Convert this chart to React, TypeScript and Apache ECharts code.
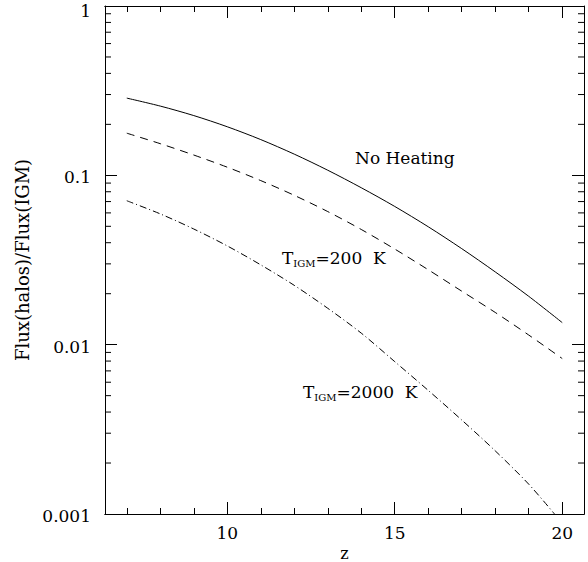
import React, { useEffect, useRef } from "react";
import * as echarts from "echarts";

// ---- data ----
const zValues = [7, 8, 9, 10, 11, 12, 13, 14, 15, 16, 17, 18, 19, 20];
const noHeating = [0.2858, 0.2564, 0.2254, 0.1936, 0.1626, 0.1334, 0.1072, 0.0845, 0.0655, 0.0497, 0.0369, 0.0269, 0.0193, 0.0135];
const t200 = [0.1774, 0.1538, 0.1318, 0.1117, 0.0931, 0.0762, 0.0611, 0.0479, 0.0367, 0.0277, 0.0207, 0.0155, 0.0114, 0.00828];
const zDashDot = [7, 8, 9, 10, 11, 12, 13, 14, 15, 16, 17, 18, 19, 19.77];
const t2000 = [0.0708, 0.0592, 0.0482, 0.0383, 0.0296, 0.0224, 0.0164, 0.0117, 0.00794, 0.00537, 0.00359, 0.00236, 0.0015, 0.001];

const xMajorTicks = [10, 15, 20];
const xMinorTicks = [7, 8, 9, 10, 11, 12, 13, 14, 15, 16, 17, 18, 19, 20];
const yMinorTicks = [
  0.002, 0.003, 0.004, 0.005, 0.006, 0.007, 0.008, 0.009,
  0.02, 0.03, 0.04, 0.05, 0.06, 0.07, 0.08, 0.09,
  0.2, 0.3, 0.4, 0.5, 0.6, 0.7, 0.8, 0.9,
];

const X_MIN = 6.35;
const X_MAX = 20.65;
const Y_MIN = 0.001;
const Y_MAX = 1;

const FONT = '"DejaVu Serif", serif';
const BLACK = "#000";

function pairs(xs: number[], ys: number[]) {
  return xs.map((x, i) => [x, ys[i]]);
}

export default function App() {
  const ref = useRef<HTMLDivElement>(null);

  useEffect(() => {
    document.body.style.margin = "0";
    if (!ref.current) return;
    const chart = echarts.init(ref.current, null, { renderer: "svg" });

    const axisLine = { show: true, onZero: false, lineStyle: { color: BLACK, width: 1 } };
    const baseX: any = {
      type: "value",
      min: X_MIN,
      max: X_MAX,
      splitLine: { show: false },
      axisLine,
    };
    const majorTickX = { show: true, inside: true, length: 12, customValues: xMajorTicks, lineStyle: { color: BLACK, width: 1 } };
    const minorTickX = { show: true, inside: true, length: 6, customValues: xMinorTicks, lineStyle: { color: BLACK, width: 1 } };

    const baseY: any = {
      type: "log",
      logBase: 10,
      min: Y_MIN,
      max: Y_MAX,
      splitLine: { show: false },
      minorTick: { show: false },
      axisLine,
      axisTick: { show: true, inside: true, length: 12, lineStyle: { color: BLACK, width: 1 } },
    };

    const option: any = {
      animation: false,
      backgroundColor: "#fff",
      grid: { left: 105, right: 4, top: 6, bottom: 48, containLabel: false, outerBoundsMode: "none" },
      xAxis: [
        {
          ...baseX,
          position: "bottom",
          name: "z",
          nameLocation: "middle",
          nameGap: 26,
          nameTextStyle: { fontFamily: FONT, fontSize: 16, color: BLACK },
          axisTick: majorTickX,
          axisLabel: { show: true, customValues: xMajorTicks, margin: 10, fontFamily: FONT, fontSize: 17, color: BLACK },
        },
        { ...baseX, position: "bottom", axisTick: minorTickX, axisLabel: { show: false } },
        { ...baseX, position: "top", axisTick: majorTickX, axisLabel: { show: false } },
        { ...baseX, position: "top", axisTick: minorTickX, axisLabel: { show: false } },
      ],
      yAxis: [
        {
          ...baseY,
          position: "left",
          name: "Flux(halos)/Flux(IGM)",
          nameLocation: "middle",
          nameRotate: 90,
          nameGap: 68,
          nameTextStyle: { fontFamily: FONT, fontSize: 18, color: BLACK },
          axisLabel: {
            show: true,
            margin: 14,
            fontFamily: FONT,
            fontSize: 17,
            color: BLACK,
            formatter: (v: number) => {
              const s = String(Number(v.toPrecision(3)));
              return v >= 0.999 ? `{one|${s}}` : `{n|${s}}`;
            },
            rich: {
              one: { fontFamily: FONT, fontSize: 17, color: BLACK, lineHeight: 17, padding: [10, 0, 0, 0] },
              n: { fontFamily: FONT, fontSize: 17, color: BLACK, lineHeight: 17, padding: [4, 0, 0, 0] },
            },
          },
        },
        { ...baseY, position: "right", axisLabel: { show: false } },
      ],
      series: [
        {
          name: "No Heating",
          type: "line",
          xAxisIndex: 0,
          yAxisIndex: 0,
          data: pairs(zValues, noHeating),
          smooth: 0.3,
          showSymbol: false,
          lineStyle: { color: BLACK, width: 1, type: "solid" },
        },
        {
          name: "T200",
          type: "line",
          xAxisIndex: 0,
          yAxisIndex: 0,
          data: pairs(zValues, t200),
          smooth: 0.3,
          showSymbol: false,
          lineStyle: { color: BLACK, width: 1, type: [8, 6] },
        },
        {
          name: "T2000",
          type: "line",
          xAxisIndex: 0,
          yAxisIndex: 0,
          data: pairs(zDashDot, t2000),
          smooth: 0.3,
          showSymbol: false,
          lineStyle: { color: BLACK, width: 1, type: [7, 3, 1, 3] },
        },
        {
          name: "yMinorTicks",
          type: "custom",
          xAxisIndex: 0,
          yAxisIndex: 0,
          silent: true,
          clip: false,
          data: yMinorTicks.map((v) => [X_MIN, v]),
          renderItem: (params: any, api: any) => {
            const cs = params.coordSys;
            const y = api.coord([api.value(0), api.value(1)])[1];
            return {
              type: "group",
              children: [
                { type: "line", shape: { x1: cs.x, y1: y, x2: cs.x + 6, y2: y }, style: { stroke: BLACK, lineWidth: 1 } },
                { type: "line", shape: { x1: cs.x + cs.width - 6, y1: y, x2: cs.x + cs.width, y2: y }, style: { stroke: BLACK, lineWidth: 1 } },
              ],
            };
          },
        },
      ],
      graphic: [
        {
          type: "text",
          x: 355,
          y: 158,
          style: { text: "No Heating", font: `17px ${FONT}`, fill: BLACK, align: "left", verticalAlign: "middle" },
        },
        {
          type: "text",
          x: 282,
          y: 258,
          style: {
            text: "{t|T}{s|IGM}{t|=200  K}",
            fill: BLACK,
            align: "left",
            verticalAlign: "middle",
            rich: {
              t: { fontFamily: FONT, fontSize: 17, lineHeight: 20, fill: BLACK },
              s: { fontFamily: FONT, fontSize: 10, lineHeight: 10, verticalAlign: "bottom", fill: BLACK },
            },
          },
        },
        {
          type: "text",
          x: 303,
          y: 392,
          style: {
            text: "{t|T}{s|IGM}{t|=2000  K}",
            fill: BLACK,
            align: "left",
            verticalAlign: "middle",
            rich: {
              t: { fontFamily: FONT, fontSize: 17, lineHeight: 20, fill: BLACK },
              s: { fontFamily: FONT, fontSize: 10, lineHeight: 10, verticalAlign: "bottom", fill: BLACK },
            },
          },
        },
      ],
    };

    chart.setOption(option);
    return () => chart.dispose();
  }, []);

  return <div ref={ref} style={{ width: 588, height: 562 }} />;
}
